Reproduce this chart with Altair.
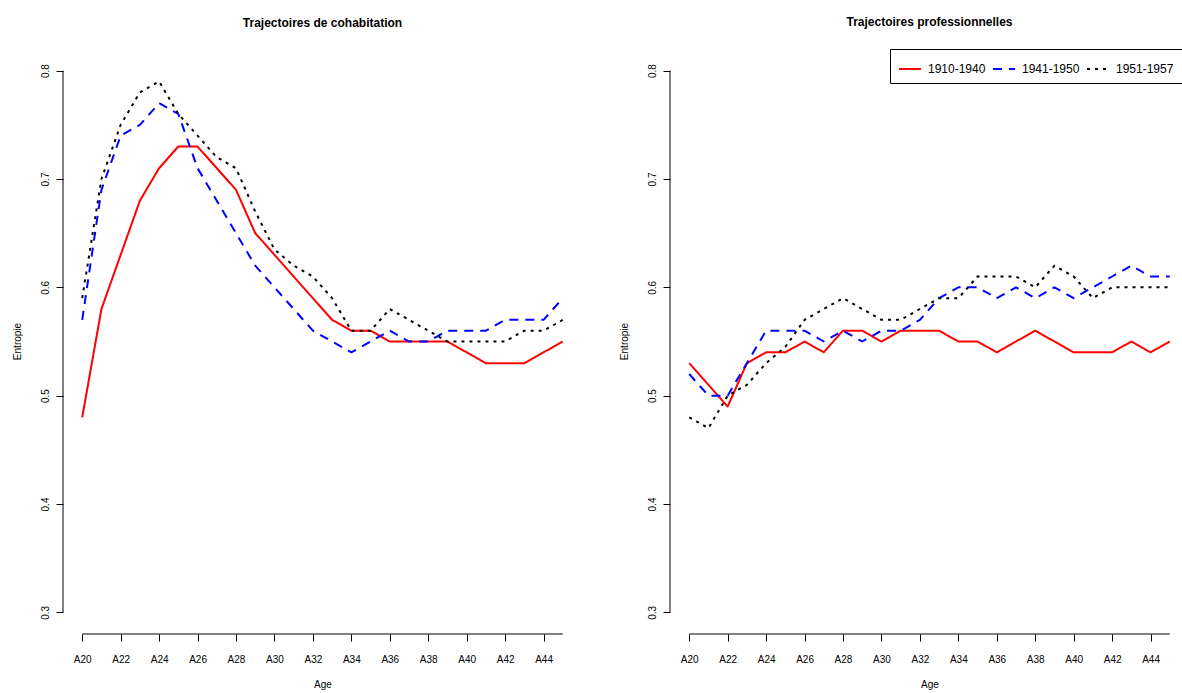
import altair as alt
import pandas as pd

ages = list(range(20, 46))  # tick labels A20 ... A45
cohorts = ["1910-1940", "1941-1950", "1951-1957"]
y_ticks = [0.3, 0.4, 0.5, 0.6, 0.7, 0.8]

cohab_1910_1940 = [0.48, 0.58, 0.63, 0.68, 0.71, 0.73, 0.73, 0.71, 0.69, 0.65, 0.63, 0.61, 0.59,
                   0.57, 0.56, 0.56, 0.55, 0.55, 0.55, 0.55, 0.54, 0.53, 0.53, 0.53, 0.54, 0.55]
cohab_1941_1950 = [0.57, 0.69, 0.74, 0.75, 0.77, 0.76, 0.71, 0.68, 0.65, 0.62, 0.60, 0.58, 0.56,
                   0.55, 0.54, 0.55, 0.56, 0.55, 0.55, 0.56, 0.56, 0.56, 0.57, 0.57, 0.57, 0.59]
cohab_1951_1957 = [0.59, 0.70, 0.75, 0.78, 0.79, 0.76, 0.74, 0.72, 0.71, 0.67, 0.635, 0.62, 0.61,
                   0.59, 0.56, 0.56, 0.58, 0.57, 0.56, 0.55, 0.55, 0.55, 0.55, 0.56, 0.56, 0.57]

prof_1910_1940 = [0.53, 0.51, 0.49, 0.53, 0.54, 0.54, 0.55, 0.54, 0.56, 0.56, 0.55, 0.56, 0.56,
                  0.56, 0.55, 0.55, 0.54, 0.55, 0.56, 0.55, 0.54, 0.54, 0.54, 0.55, 0.54, 0.55]
prof_1941_1950 = [0.52, 0.50, 0.50, 0.53, 0.56, 0.56, 0.56, 0.55, 0.56, 0.55, 0.56, 0.56, 0.57,
                  0.59, 0.60, 0.60, 0.59, 0.60, 0.59, 0.60, 0.59, 0.60, 0.61, 0.62, 0.61, 0.61]
prof_1951_1957 = [0.48, 0.47, 0.50, 0.51, 0.53, 0.545, 0.57, 0.58, 0.59, 0.58, 0.57, 0.57, 0.58,
                  0.59, 0.59, 0.61, 0.61, 0.61, 0.60, 0.62, 0.61, 0.59, 0.60, 0.60, 0.60, 0.60]

FONT = "Liberation Sans"
H = 585
W = 519


def long_df(series):
    rows = []
    for cohort, vals in zip(cohorts, series):
        for a, v in zip(ages, vals):
            rows.append({"age": a, "value": v, "cohort": cohort})
    return pd.DataFrame(rows)


def panel(series, title, show_legend):
    df = long_df(series)
    xscale = alt.Scale(domain=[19, 46], nice=False, zero=False)
    yscale = alt.Scale(domain=[0.28, 0.82], nice=False, zero=False)
    if show_legend:
        legend = alt.Legend(
            title=None, orient="none", legendX=220, legendY=0, direction="horizontal",
            symbolType="stroke", symbolSize=484, symbolStrokeWidth=2,
            labelFont=FONT, labelFontSize=12, labelColor="black", labelOffset=6,
            columnPadding=3, strokeColor="black", padding=8, fillColor="white",
        )
    else:
        legend = None
    lines = alt.Chart(df).mark_line(strokeWidth=2, strokeCap="butt", strokeJoin="round").encode(
        x=alt.X("age:Q", scale=xscale,
                axis=alt.Axis(title="Age", values=ages, domain=False, ticks=True, tickSize=7,
                              tickColor="black",
                              labelExpr="datum.value % 2 == 0 ? 'A' + datum.value : ''",
                              labelAngle=0, labelPadding=13, labelFont=FONT, labelFontSize=10,
                              labelColor="black", labelFlush=False, labelOverlap=False,
                              titleFont=FONT, titleFontSize=10,
                              titleFontWeight="normal", titleColor="black", titleY=50.5,
                              titleBaseline="middle", grid=False)),
        y=alt.Y("value:Q", scale=yscale,
                axis=alt.Axis(title="Entropie", values=y_ticks, format=".1f", domain=False,
                              tickSize=7, tickColor="black", labelAngle=-90, labelAlign="center",
                              labelBaseline="bottom", labelPadding=6, labelFont=FONT, labelFontSize=10,
                              labelColor="black", titleFont=FONT, titleFontSize=10,
                              titleFontWeight="normal", titleColor="black", titleX=-46,
                              titleY=H / 2 - 0.5, titleAngle=-90, titleAlign="center",
                              titleBaseline="middle", grid=False)),
        color=alt.Color("cohort:N", scale=alt.Scale(domain=cohorts, range=["#ff0000", "#0000ff", "#000000"]),
                        legend=legend),
        strokeDash=alt.StrokeDash("cohort:N", scale=alt.Scale(domain=cohorts, range=[[1, 0], [9, 7], [3, 5]]),
                                  legend=legend),
    )
    one = pd.DataFrame({"k": [0]})
    xline = alt.Chart(one).mark_rule(color="black", strokeWidth=1).encode(
        x=alt.X(datum=ages[0]), x2=alt.X2(datum=ages[-1]), y=alt.Y(datum=0.28))
    yline = alt.Chart(one).mark_rule(color="black", strokeWidth=1).encode(
        x=alt.X(datum=19), y=alt.Y(datum=y_ticks[0]), y2=alt.Y2(datum=y_ticks[-1]))
    return alt.layer(lines, xline, yline).properties(
        width=W, height=H,
        title=alt.TitleParams(title, font=FONT, fontSize=12, fontWeight="bold", color="black",
                              anchor="middle", offset=19.5),
    )


left = panel([cohab_1910_1940, cohab_1941_1950, cohab_1951_1957], "Trajectoires de cohabitation", False)
right = panel([prof_1910_1940, prof_1941_1950, prof_1951_1957], "Trajectoires professionnelles", True)

chart = alt.hconcat(left, right, spacing=88, bounds="flush").resolve_scale(
    color="independent", strokeDash="independent"
).resolve_legend(
    color="independent", strokeDash="independent"
).properties(
    autosize=alt.AutoSizeParams(type="none"),
    padding={"left": 63, "top": 49, "right": 1182 - 63, "bottom": 693 - 49},
    background="white",
).configure_view(stroke=None)

chart.save("out.html", embed_options={"renderer": "svg", "actions": False})
